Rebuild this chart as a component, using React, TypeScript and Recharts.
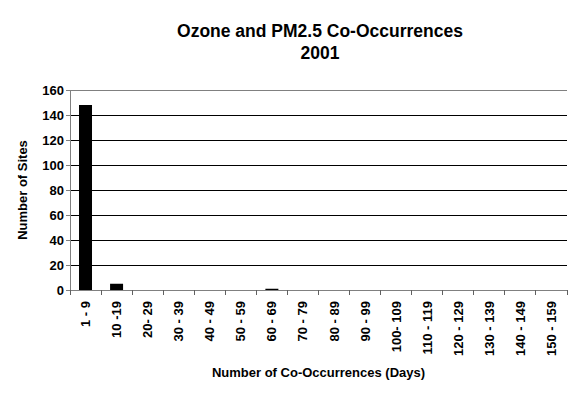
import { Bar, BarChart, CartesianGrid, ReferenceLine, XAxis, YAxis } from "recharts";

const categories = [
  "1 - 9",
  "10 -19",
  "20- 29",
  "30 - 39",
  "40 - 49",
  "50 - 59",
  "60 - 69",
  "70 - 79",
  "80 - 89",
  "90 - 99",
  "100- 109",
  "110 - 119",
  "120 - 129",
  "130 - 139",
  "140 - 149",
  "150 - 159",
];
const sites = [148, 5, 0, 0, 0, 0, 1, 0, 0, 0, 0, 0, 0, 0, 0, 0];
const yTicks = [0, 20, 40, 60, 80, 100, 120, 140, 160];

const W = 576;
const H = 394;
const M = { top: 90, right: 9, left: 20, bottom: 20 };
const Y_W = 50;
const STEP = (W - M.left - M.right - Y_W) / categories.length;

const font = "'Liberation Sans', Arial, sans-serif";

function XTick(props: any) {
  const { x, y, payload, index } = props;
  const axisY = y - 8;
  return (
    <g>
      <line x1={x - STEP / 2} x2={x - STEP / 2} y1={axisY} y2={axisY + 5} stroke="#606060" shapeRendering="crispEdges" />
      {index === categories.length - 1 && (
        <line x1={x + STEP / 2} x2={x + STEP / 2} y1={axisY} y2={axisY + 5} stroke="#606060" shapeRendering="crispEdges" />
      )}
      <text
        transform={`translate(${x},${axisY + 11}) rotate(-90)`}
        textAnchor="end"
        dominantBaseline="central"
        fontSize={13}
        fontWeight="bold"
        fontFamily={font}
        fill="#000"
      >
        {payload.value}
      </text>
    </g>
  );
}

export default function App() {
  const data = categories.map((c, i) => ({ label: c, sites: sites[i] }));
  return (
    <div style={{ position: "absolute", left: 0, top: 0, width: W, height: H, background: "#fff", fontFamily: font }}>
      <div style={{ position: "absolute", left: 0, width: W, top: 20, textAlign: "center", fontSize: 17.5, fontWeight: "bold", lineHeight: "22px", paddingLeft: 64, boxSizing: "border-box" }}>
        Ozone and PM2.5 Co-Occurrences
        <br />
        2001
      </div>
      <div
        style={{
          position: "absolute",
          left: 22,
          top: 190,
          transform: "translate(-50%, -50%) rotate(-90deg)",
          fontSize: 13,
          fontWeight: "bold",
          whiteSpace: "nowrap",
        }}
      >
        Number of Sites
      </div>
      <div style={{ position: "absolute", left: 70, width: 497, top: 365, textAlign: "center", fontSize: 13, fontWeight: "bold" }}>
        Number of Co-Occurrences (Days)
      </div>
      <div style={{ position: "absolute", left: 0, top: 0 }}>
        <BarChart width={W} height={H} data={data} margin={M} barCategoryGap="29%">
          <CartesianGrid yAxisId="left" vertical={false} stroke="#000" shapeRendering="crispEdges" />
          <XAxis
            dataKey="label"
            interval={0}
            height={84}
            tickLine={false}
            axisLine={{ stroke: "#808080", shapeRendering: "crispEdges" }}
            tick={<XTick />}
          />
          <YAxis
            yAxisId="left"
            domain={[0, 160]}
            ticks={yTicks}
            width={Y_W}
            axisLine={{ stroke: "#808080", shapeRendering: "crispEdges" }}
            tickLine={{ stroke: "#808080", shapeRendering: "crispEdges" }}
            tickSize={4}
            tick={{ fontSize: 13, fontWeight: "bold", fill: "#000", fontFamily: font }}
          />
          <YAxis
            yAxisId="right"
            orientation="right"
            width={0}
            domain={[0, 160]}
            tick={false}
            tickLine={false}
            axisLine={{ stroke: "#808080", shapeRendering: "crispEdges" }}
          />
          <ReferenceLine yAxisId="left" y={160} stroke="#808080" shapeRendering="crispEdges" />
          <Bar yAxisId="left" dataKey="sites" fill="#000" isAnimationActive={false} />
        </BarChart>
      </div>
    </div>
  );
}
